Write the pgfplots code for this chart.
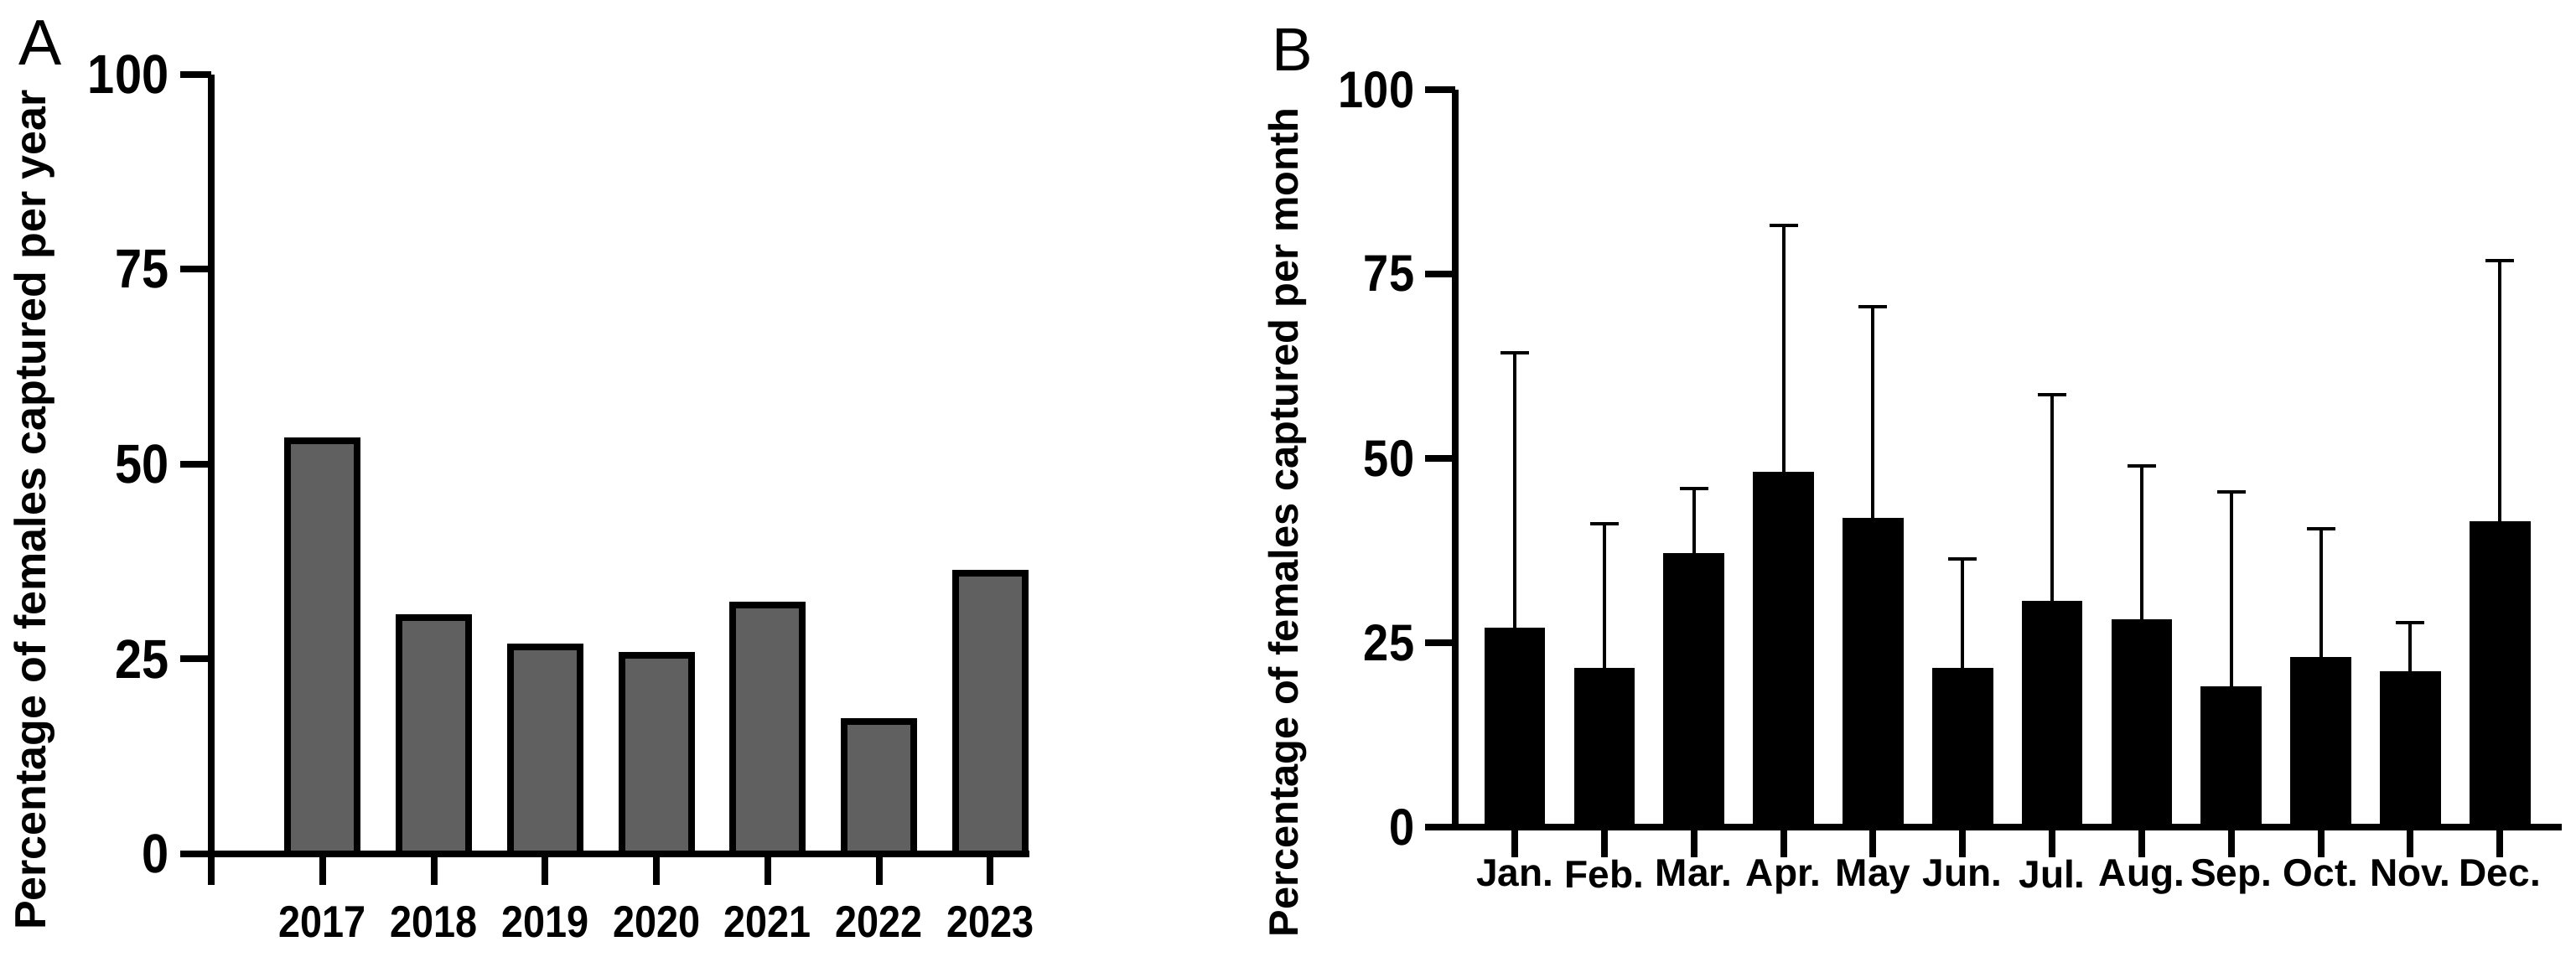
\documentclass[border=0pt]{standalone}
\usepackage{fontspec}
\setmainfont{Liberation Sans}
\newfontfamily\condfont{Liberation Sans}[FakeStretch=0.88]
\usepackage{pgfplots}
\pgfplotsset{compat=1.18}
\usepackage{pgfplotstable}
\definecolor{barA}{RGB}{96,96,96}

\pgfplotstableread{
x y
2017 53.0
2018 30.3
2019 26.6
2020 25.5
2021 31.9
2022 17.0
2023 36.0
}\yeardata

\pgfplotstableread{
x y e
1 26.9 37.4
2 21.5 19.6
3 37.1 8.8
4 48.1 33.5
5 41.8 28.8
6 21.5 14.9
7 30.6 28.0
8 28.1 20.9
9 19.0 26.5
10 23.0 17.4
11 21.0 6.7
12 41.4 35.4
}\monthdata

\begin{document}
\begin{tikzpicture}
\useasboundingbox (0,0) rectangle (768.25pt,285.5pt);
\begin{axis}[
  at={(63pt,30.75pt)}, anchor=south west, scale only axis,
  width=244pt, height=232.5pt,
  xmin=2016, xmax=2023.35, ymin=0, ymax=100,
  axis x line*=bottom, axis y line*=left,
  axis line style={-, line width=2pt},
  tick align=outside, major tick length=9.25pt,
  tick style={line width=2pt, black},
  xtick={2016,2017,...,2023},
  xticklabels={{},2017,2018,2019,2020,2021,2022,2023},
  ytick={0,25,50,75,100}, yticklabels={0,25,50,75,100},
  x tick label style={font=\condfont\bfseries\fontsize{13.3}{14}\selectfont, anchor=north, inner sep=0pt, yshift=-6.25pt},
  y tick label style={font=\condfont\bfseries\fontsize{16.4}{18}\selectfont, anchor=east, inner sep=0pt, xshift=-3.25pt},
  clip=false,
]
\addplot[ybar, bar width=0.625, fill=barA, draw=black, line width=2pt] table[x=x,y=y]{\yeardata};
\end{axis}

\begin{axis}[
  at={(434pt,38.75pt)}, anchor=south west, scale only axis,
  width=330pt, height=220pt,
  xmin=0.335, xmax=12.69, ymin=0, ymax=100,
  axis x line*=bottom, axis y line*=left,
  axis line style={-, line width=1.9pt},
  tick align=outside, major tick length=9pt,
  tick style={line width=2pt, black},
  xtick={1,2,...,12},
  xticklabels={Jan.,Feb.,Mar.,Apr.,May,Jun.,Jul.,Aug.,Sep.,Oct.,Nov.,Dec.},
  ytick={0,25,50,75,100}, yticklabels={0,25,50,75,100},
  x tick label style={font=\bfseries\fontsize{11.5}{13}\selectfont, anchor=north, inner sep=0pt, yshift=-0.5pt},
  y tick label style={font=\condfont\bfseries\fontsize{15.4}{17}\selectfont, anchor=east, inner sep=0pt, xshift=-3pt},
  clip=false,
]
\addplot[ybar, bar width=0.665, fill=black, draw=black, line width=0.4pt,
  error bars/.cd, y dir=plus, y explicit,
  error bar style={line width=1pt, black},
  error mark options={rotate=90, mark size=4.25pt, line width=1pt, black}]
  table[x=x,y=y,y error=e]{\monthdata};
\end{axis}

\node[rotate=90, anchor=base, font=\bfseries\fontsize{13}{15}\selectfont] at (13.75pt,133.4pt) {Percentage of females captured per year};
\node[rotate=90, anchor=base, font=\bfseries\fontsize{12.2}{14}\selectfont] at (387pt,129.6pt) {Percentage of females captured per month};
\node[anchor=base west, inner sep=0pt, font=\fontsize{19.2}{22}\selectfont] at (5.5pt,266pt) {A};
\node[anchor=base west, inner sep=0pt, font=\fontsize{18.2}{21}\selectfont] at (379.2pt,264.25pt) {B};
\end{tikzpicture}
\end{document}
